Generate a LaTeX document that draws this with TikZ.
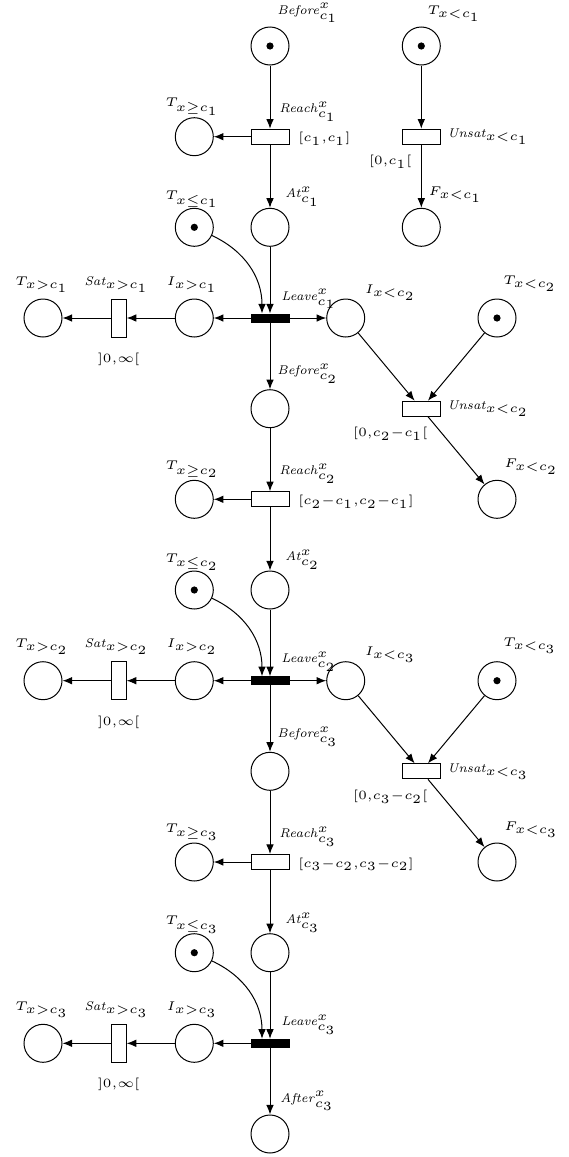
\documentclass[tikz,border=0pt]{standalone}
\usepackage{graphicx}
\usetikzlibrary{arrows.meta,calc}
\newcommand\lm[1]{$\scriptstyle #1$}
\newcommand\lt[1]{\scalebox{1.26}{\tiny #1}}
\begin{document}
\begin{tikzpicture}[x=0.5pt,y=-0.5pt,
  place/.style={circle,draw,line width=0.5pt,minimum size=19pt,inner sep=0pt},
  tok/.style={circle,fill=black,inner sep=0pt,minimum size=3.6pt},
  trans/.style={rectangle,draw,line width=0.5pt,minimum width=19pt,minimum height=7.5pt,inner sep=0pt},
  vtrans/.style={rectangle,draw,line width=0.5pt,minimum width=7.5pt,minimum height=19pt,inner sep=0pt},
  bar/.style={rectangle,draw,fill=black,line width=0.5pt,minimum width=19pt,minimum height=4pt,inner sep=0pt},
  arr/.style={-{Latex[length=4.8pt,width=3.8pt]},line width=0.5pt},
  lbl/.style={inner sep=0pt,anchor=base west},
  clbl/.style={inner sep=0pt,anchor=base}]
\useasboundingbox (0,0) rectangle (568,1157);

% ---------- block 1 ----------
\node[place] (Before1) at (270,46) {};
\node[tok] (Before1t) at (Before1) {};
\node[trans] (Reach1) at (270,136.7) {};
\node[place] (Tge1) at (194.3,136.7) {};
\node[place] (At1) at (270,227.3) {};
\node[place] (Tle1) at (194.3,227.3) {};
\node[tok] (Tle1t) at (Tle1) {};
\node[bar] (Leave1) at (270,318) {};
\node[place] (Igt1) at (194.3,318) {};
\node[vtrans] (Sat1) at (118.7,318) {};
\node[place] (Tgt1) at (43,318) {};
\node[place] (Tlt1) at (421.3,46) {};
\node[tok] (Tlt1t) at (Tlt1) {};
\node[trans] (Unsat1) at (421.3,136.7) {};
\node[place] (Flt1) at (421.3,227.3) {};
\node[place] (Ilt2) at (345.7,318) {};
\node[place] (Tlt2) at (497,318) {};
\node[tok] (Tlt2t) at (Tlt2) {};
\node[trans] (Unsat2) at (421.3,408.7) {};
\node[place] (Flt2) at (497,499.3) {};

% ---------- block 2 ----------
\node[place] (Before2) at (270,408.7) {};
\node[trans] (Reach2) at (270,499.3) {};
\node[place] (Tge2) at (194.3,499.3) {};
\node[place] (At2) at (270,590) {};
\node[place] (Tle2) at (194.3,590) {};
\node[tok] (Tle2t) at (Tle2) {};
\node[bar] (Leave2) at (270,680.7) {};
\node[place] (Igt2) at (194.3,680.7) {};
\node[vtrans] (Sat2) at (118.7,680.7) {};
\node[place] (Tgt2) at (43,680.7) {};
\node[place] (Ilt3) at (345.7,680.7) {};
\node[place] (Tlt3) at (497,680.7) {};
\node[tok] (Tlt3t) at (Tlt3) {};
\node[trans] (Unsat3) at (421.3,771.3) {};
\node[place] (Flt3) at (497,862) {};

% ---------- block 3 ----------
\node[place] (Before3) at (270,771.3) {};
\node[trans] (Reach3) at (270,862) {};
\node[place] (Tge3) at (194.3,862) {};
\node[place] (At3) at (270,952.7) {};
\node[place] (Tle3) at (194.3,952.7) {};
\node[tok] (Tle3t) at (Tle3) {};
\node[bar] (Leave3) at (270,1043.3) {};
\node[place] (Igt3) at (194.3,1043.3) {};
\node[vtrans] (Sat3) at (118.7,1043.3) {};
\node[place] (Tgt3) at (43,1043.3) {};
\node[place] (After3) at (270,1134) {};

% ---------- labels ----------
\path (Before1) ++(7,-32) node[lbl] (LBefore1) {\lt{\textit{Before}\lm{^{x}_{c_1}}}};
\path (Reach1) ++(9,-24.5) node[lbl] (LReach1) {\lt{\textit{Reach}\lm{^{x}_{c_1}}}};
\path (Reach1) ++(28,5) node[lbl] (IReach1) {\lt{\lm{[c_1,c_1]}}};
\path (Tge1) ++(-2,-30) node[clbl] (LTge1) {\lt{\lm{T_{x\geq c_1}}}};
\path (At1) ++(15,-29.5) node[lbl] (LAt1) {\lt{\textit{At}\lm{^{x}_{c_1}}}};
\path (Tle1) ++(-2,-28) node[clbl] (LTle1) {\lt{\lm{T_{x\leq c_1}}}};
\path (Leave1) ++(11,-18) node[lbl] (LLeave1) {\lt{\textit{Leave}\lm{^{x}_{c_1}}}};
\path (Igt1) ++(-2,-33) node[clbl] (LIgt1) {\lt{\lm{I_{x>c_1}}}};
\path (Sat1) ++(-2,-33) node[clbl] (LSat1) {\lt{\textit{Sat}\lm{_{x>c_1}}}};
\path (Sat1) ++(0,44.5) node[clbl] (ISat1) {\lt{\lm{]0,\infty[}}};
\path (Tgt1) ++(-1,-33) node[clbl] (LTgt1) {\lt{\lm{T_{x>c_1}}}};
\path (Tlt1) ++(6,-32) node[lbl] (LTlt1) {\lt{\lm{T_{x<c_1}}}};
\path (Unsat1) ++(26,1) node[lbl] (LUnsat1) {\lt{\textit{Unsat}\lm{_{x<c_1}}}};
\path (Unsat1) ++(-31,28) node[clbl] (IUnsat1) {\lt{\lm{[0,c_1[}}};
\path (Flt1) ++(7,-32) node[lbl] (LFlt1) {\lt{\lm{F_{x<c_1}}}};
\path (Ilt2) ++(19,-25) node[lbl] (LIlt2) {\lt{\lm{I_{x<c_2}}}};
\path (Tlt2) ++(6,-34) node[lbl] (LTlt2) {\lt{\lm{T_{x<c_2}}}};
\path (Unsat2) ++(26,1) node[lbl] (LUnsat2) {\lt{\textit{Unsat}\lm{_{x<c_2}}}};
\path (Unsat2) ++(-31,28) node[clbl] (IUnsat2) {\lt{\lm{[0,c_2-c_1[}}};
\path (Flt2) ++(7,-32) node[lbl] (LFlt2) {\lt{\lm{F_{x<c_2}}}};

\path (Before2) ++(7,-34) node[lbl] (LBefore2) {\lt{\textit{Before}\lm{^{x}_{c_2}}}};
\path (Reach2) ++(9,-24.5) node[lbl] (LReach2) {\lt{\textit{Reach}\lm{^{x}_{c_2}}}};
\path (Reach2) ++(28,5) node[lbl] (IReach2) {\lt{\lm{[c_2-c_1,c_2-c_1]}}};
\path (Tge2) ++(-2,-30) node[clbl] (LTge2) {\lt{\lm{T_{x\geq c_2}}}};
\path (At2) ++(15,-29.5) node[lbl] (LAt2) {\lt{\textit{At}\lm{^{x}_{c_2}}}};
\path (Tle2) ++(-2,-28) node[clbl] (LTle2) {\lt{\lm{T_{x\leq c_2}}}};
\path (Leave2) ++(11,-18) node[lbl] (LLeave2) {\lt{\textit{Leave}\lm{^{x}_{c_2}}}};
\path (Igt2) ++(-2,-33) node[clbl] (LIgt2) {\lt{\lm{I_{x>c_2}}}};
\path (Sat2) ++(-2,-33) node[clbl] (LSat2) {\lt{\textit{Sat}\lm{_{x>c_2}}}};
\path (Sat2) ++(0,44.5) node[clbl] (ISat2) {\lt{\lm{]0,\infty[}}};
\path (Tgt2) ++(-1,-33) node[clbl] (LTgt2) {\lt{\lm{T_{x>c_2}}}};
\path (Ilt3) ++(19,-25) node[lbl] (LIlt3) {\lt{\lm{I_{x<c_3}}}};
\path (Tlt3) ++(6,-34) node[lbl] (LTlt3) {\lt{\lm{T_{x<c_3}}}};
\path (Unsat3) ++(26,1) node[lbl] (LUnsat3) {\lt{\textit{Unsat}\lm{_{x<c_3}}}};
\path (Unsat3) ++(-31,28) node[clbl] (IUnsat3) {\lt{\lm{[0,c_3-c_2[}}};
\path (Flt3) ++(7,-32) node[lbl] (LFlt3) {\lt{\lm{F_{x<c_3}}}};

\path (Before3) ++(7,-34) node[lbl] (LBefore3) {\lt{\textit{Before}\lm{^{x}_{c_3}}}};
\path (Reach3) ++(9,-24.5) node[lbl] (LReach3) {\lt{\textit{Reach}\lm{^{x}_{c_3}}}};
\path (Reach3) ++(28,5) node[lbl] (IReach3) {\lt{\lm{[c_3-c_2,c_3-c_2]}}};
\path (Tge3) ++(-2,-30) node[clbl] (LTge3) {\lt{\lm{T_{x\geq c_3}}}};
\path (At3) ++(15,-29.5) node[lbl] (LAt3) {\lt{\textit{At}\lm{^{x}_{c_3}}}};
\path (Tle3) ++(-2,-28) node[clbl] (LTle3) {\lt{\lm{T_{x\leq c_3}}}};
\path (Leave3) ++(11,-18) node[lbl] (LLeave3) {\lt{\textit{Leave}\lm{^{x}_{c_3}}}};
\path (Igt3) ++(-2,-33) node[clbl] (LIgt3) {\lt{\lm{I_{x>c_3}}}};
\path (Sat3) ++(-2,-33) node[clbl] (LSat3) {\lt{\textit{Sat}\lm{_{x>c_3}}}};
\path (Sat3) ++(0,44.5) node[clbl] (ISat3) {\lt{\lm{]0,\infty[}}};
\path (Tgt3) ++(-1,-33) node[clbl] (LTgt3) {\lt{\lm{T_{x>c_3}}}};
\path (After3) ++(10,-32) node[lbl] (LAfter3) {\lt{\textit{After}\lm{^{x}_{c_3}}}};

% ---------- arcs ----------
\foreach \k in {1,2,3}{
  \draw[arr] (Before\k) -- (Reach\k);
  \draw[arr] (Reach\k) -- (Tge\k);
  \draw[arr] (Reach\k) -- (At\k);
  \draw[arr] (At\k) -- (Leave\k);
  \draw[arr] (Tle\k) to[out=-25,in=90] ([xshift=-4pt]Leave\k.north);
  \draw[arr] (Leave\k) -- (Igt\k);
  \draw[arr] (Igt\k) -- (Sat\k);
  \draw[arr] (Sat\k) -- (Tgt\k);
}
\draw[arr] (Leave1) -- (Before2);
\draw[arr] (Leave2) -- (Before3);
\draw[arr] (Leave3) -- (After3);
\draw[arr] (Tlt1) -- (Unsat1);
\draw[arr] (Unsat1) -- (Flt1);
\foreach \k in {2,3}{
  \draw[arr] (Ilt\k) -- (Unsat\k);
  \draw[arr] (Tlt\k) -- (Unsat\k);
  \draw[arr] (Unsat\k) -- (Flt\k);
}
\draw[arr] (Leave1) -- (Ilt2);
\draw[arr] (Leave2) -- (Ilt3);
\end{tikzpicture}
\end{document}
